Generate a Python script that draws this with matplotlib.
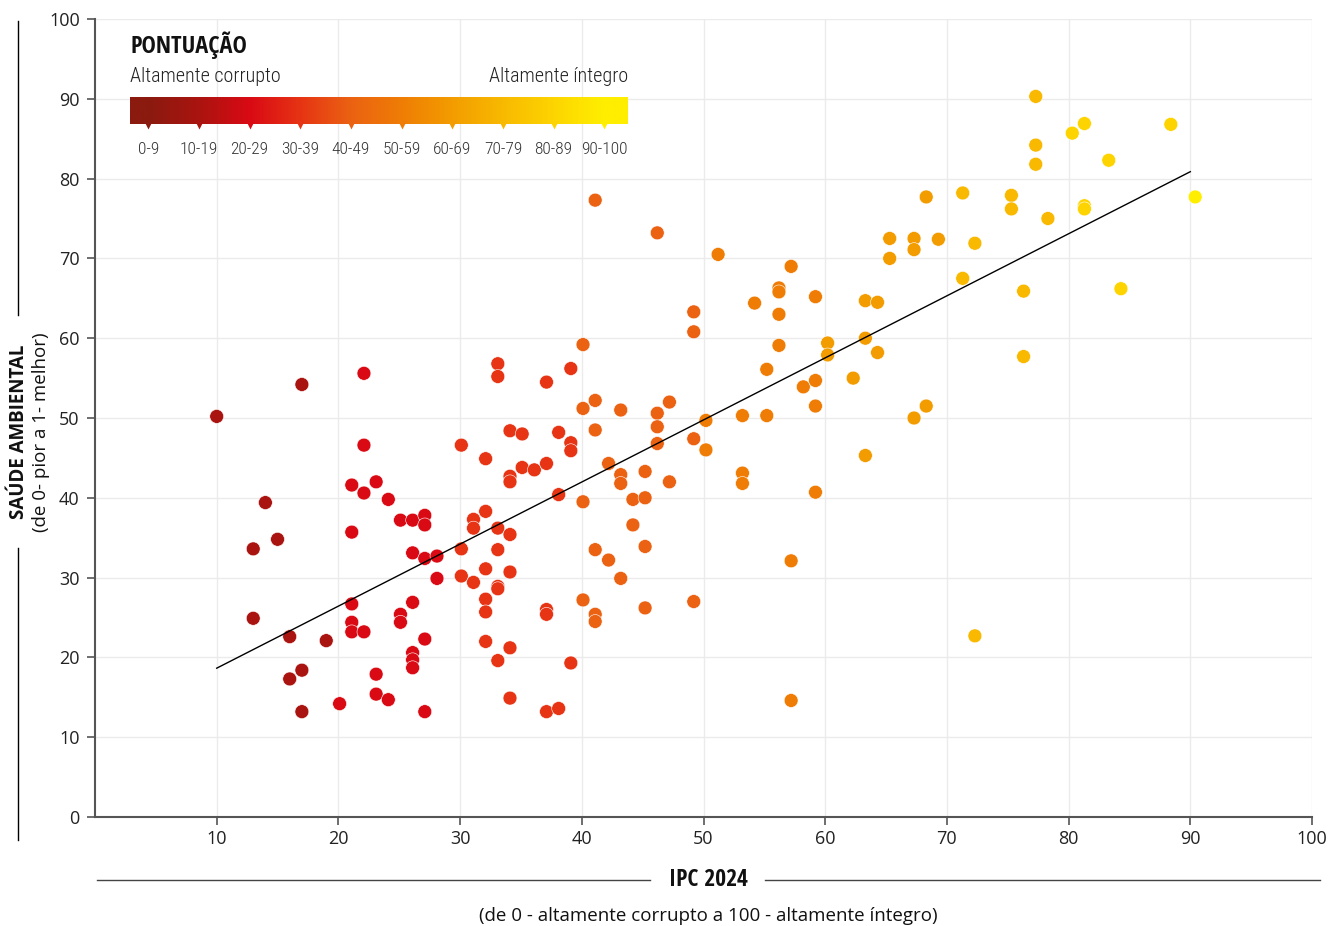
import numpy as np
import matplotlib
matplotlib.use("Agg")
import matplotlib.pyplot as plt
from matplotlib import font_manager
from matplotlib.colors import LinearSegmentedColormap
from matplotlib.lines import Line2D

# IPC 2024 score (x) vs environmental health (y), one dot per country
ipc = [10.0, 17.0, 22.1, 22.1, 14.0, 13.0, 15.0, 13.0, 16.0, 16.0, 17.0, 17.0, 19.0, 20.1,
       21.1, 22.1, 23.1, 24.1, 21.1, 21.1, 21.1, 21.1, 22.1, 23.1, 23.1, 24.1,
       25.1, 26.1, 25.1, 25.1, 26.1, 26.1, 27.1, 27.1, 27.1, 28.1, 28.1, 26.1, 26.1, 26.1, 27.1, 27.1,
       30.1, 32.1, 31.1, 31.1, 32.1, 30.1, 30.1, 31.1, 32.1, 32.1, 32.1, 32.1,
       40.1, 33.1, 33.1, 39.1, 37.1, 34.1, 35.1, 38.1, 39.1, 39.1, 40.1, 41.1, 41.1, 43.2,
       46.2, 46.2, 47.2, 46.2, 49.2, 50.2, 50.2, 42.2, 43.2, 43.2, 45.2, 47.2, 44.2, 45.2,
       40.1, 38.1, 34.1, 34.1, 35.1, 36.1, 37.1, 33.1, 34.1, 44.2, 45.2, 41.1, 42.2, 43.2,
       33.1, 34.1, 33.1, 33.1, 40.1, 37.1, 37.1, 41.1, 41.1, 45.2, 49.2, 34.1, 33.1, 39.1,
       34.1, 37.1, 38.1,
       46.2, 51.2, 49.2, 49.2, 57.2, 56.2, 56.2, 54.2, 56.2, 59.2, 63.3, 64.3, 56.2, 60.2,
       60.2, 63.3, 64.3, 55.2, 58.2, 59.2, 62.3, 59.2, 68.3, 67.3, 53.2, 55.2, 53.2, 53.2,
       59.2, 63.3,
       77.3, 81.3, 80.3, 88.4, 77.3, 77.3, 83.3, 68.3, 71.3, 75.3, 75.3, 78.3, 81.3, 81.3,
       90.4, 65.3, 67.3, 69.3, 67.3, 65.3, 72.3, 71.3, 76.3, 84.3, 76.3, 72.3, 57.2, 57.2, 41.1]
saude = [50.2, 54.2, 55.6, 46.6, 39.4, 33.6, 34.8, 24.9, 22.6, 17.3, 18.4, 13.2, 22.1, 14.2,
         41.6, 40.6, 42.0, 39.8, 35.7, 26.7, 24.4, 23.2, 23.2, 17.9, 15.4, 14.7,
         37.2, 37.2, 25.4, 24.4, 26.9, 33.1, 37.8, 36.6, 32.4, 32.7, 29.9, 20.6, 19.7, 18.7, 22.3, 13.2,
         46.6, 44.9, 37.3, 36.2, 38.3, 33.6, 30.2, 29.4, 31.1, 27.3, 25.7, 22.0,
         59.2, 56.8, 55.2, 56.2, 54.5, 48.4, 48.0, 48.2, 46.9, 45.9, 51.2, 52.2, 48.5, 51.0,
         50.6, 48.9, 52.0, 46.8, 47.4, 49.7, 46.0, 44.3, 42.9, 41.8, 43.3, 42.0, 39.8, 40.0,
         39.5, 40.4, 42.7, 42.0, 43.8, 43.5, 44.3, 36.2, 35.4, 36.6, 33.9, 33.5, 32.2, 29.9,
         33.5, 30.7, 28.9, 28.6, 27.2, 26.0, 25.4, 25.4, 24.5, 26.2, 27.0, 21.2, 19.6, 19.3,
         14.9, 13.2, 13.6,
         73.2, 70.5, 63.3, 60.8, 69.0, 66.3, 65.8, 64.4, 63.0, 65.2, 64.7, 64.5, 59.1, 59.4,
         57.9, 60.0, 58.2, 56.1, 53.9, 54.7, 55.0, 51.5, 51.5, 50.0, 50.3, 50.3, 43.1, 41.8,
         40.7, 45.3,
         90.3, 86.9, 85.7, 86.8, 84.2, 81.8, 82.3, 77.7, 78.2, 77.9, 76.2, 75.0, 76.6, 76.2,
         77.7, 72.5, 72.5, 72.4, 71.1, 70.0, 71.9, 67.5, 65.9, 66.2, 57.7, 22.7, 32.1, 14.6, 77.3]

faixas = ["0-9", "10-19", "20-29", "30-39", "40-49",
          "50-59", "60-69", "70-79", "80-89", "90-100"]
cores = ["#8B1A0F", "#AA1410", "#DA0A14", "#E63414", "#EB6212",
         "#EF7D05", "#F39C00", "#F8B900", "#FDD400", "#FFEE00"]

# fonts: condensed families for the legend (bold one and a thin one)
def peso(w):
    if isinstance(w, str):
        return {"ultralight": 200, "light": 300, "normal": 400, "regular": 400,
                "book": 400, "medium": 500, "semibold": 600, "bold": 700}.get(w.lower(), 400)
    return w

fontes = font_manager.fontManager.ttflist
candidatas = ["Open Sans Condensed", "Roboto Condensed", "Liberation Sans Narrow",
              "DejaVu Sans Condensed"]
negrito, leve, leve_peso = "Open Sans", "Open Sans", 400
for n in candidatas:
    if any(f.name == n and peso(f.weight) >= 600 for f in fontes):
        negrito = n
        break
for n in candidatas:
    finos = sorted(peso(f.weight) for f in fontes if f.name == n and peso(f.weight) <= 400)
    if finos:
        finos_ok = [p for p in finos if p >= 300] or finos
        leve, leve_peso = n, finos_ok[0]
        break
fam_negrito = [negrito, "DejaVu Sans"]
fam_leve = [leve, "DejaVu Sans"]
plt.rcParams["font.family"] = ["Open Sans", "DejaVu Sans"]

W, H = 1329, 926
fig = plt.figure(figsize=(W / 100, H / 100), dpi=100)

def fx(px):
    return px / W

def fy(py):
    return 1 - py / H

ax = fig.add_axes([fx(95), fy(817), fx(1312) - fx(95), fy(19) - fy(817)])

x = np.array(ipc)
y = np.array(saude)
idx = np.minimum(np.round(x) // 10, 9).astype(int)
ax.scatter(x, y, s=100, c=[cores[i] for i in idx], edgecolors="white",
           linewidths=0.4, zorder=3)

# linear trend
a, b = np.polyfit(x, y, 1)
xs = np.array([np.floor(x.min()), np.floor(x.max())])
ax.plot(xs, a * xs + b, color="black", lw=1, zorder=4)

ax.set_xlim(0, 100)
ax.set_ylim(0, 100)
ax.set_xticks(range(10, 101, 10))
ax.set_yticks(range(0, 101, 10))
ax.grid(True, color="#EBEBEB", lw=1)
ax.set_axisbelow(True)
for s in ["top", "right"]:
    ax.spines[s].set_visible(False)
for s in ["left", "bottom"]:
    ax.spines[s].set_color("#555555")
    ax.spines[s].set_linewidth(1.5)
ax.tick_params(axis="both", colors="#555555", labelcolor="#222222",
               labelsize=13, length=6, width=1.2)
ax.tick_params(axis="y", pad=5)

# y label with lines
fig.text(fx(19), fy(432), "SAÚDE AMBIENTAL", rotation=90, ha="center",
         va="center", fontsize=13.5, fontweight="bold", color="#111111")
fig.text(fx(41), fy(432), "(de 0- pior a 1- melhor)", rotation=90,
         ha="center", va="center", fontsize=13.5, color="#111111")
fig.add_artist(Line2D([fx(18), fx(18)], [fy(21), fy(315)], color="black", lw=1))
fig.add_artist(Line2D([fx(18), fx(18)], [fy(548), fy(840)], color="black", lw=1))

# x label with lines
fig.text(fx(708), fy(880), "IPC 2024", ha="center", va="center",
         fontsize=17, fontweight="bold", family=fam_negrito, color="#111111")
fig.add_artist(Line2D([fx(97), fx(650)], [fy(880), fy(880)], color="#444444", lw=1))
fig.add_artist(Line2D([fx(765), fx(1320)], [fy(880), fy(880)], color="#444444", lw=1))
fig.text(fx(708), fy(916), "(de 0 - altamente corrupto a 100 - altamente íntegro)",
         ha="center", va="center", fontsize=13.5, color="#111111")

# colour legend
fig.text(fx(130), fy(45), "PONTUAÇÃO", ha="left", va="center", fontsize=17.5,
         fontweight="bold", family=fam_negrito, color="#111111")
fig.text(fx(130), fy(76), "Altamente corrupto", ha="left", va="center",
         fontsize=14.5, fontweight=leve_peso, family=fam_leve, color="#222222")
fig.text(fx(628), fy(76), "Altamente íntegro", ha="right", va="center",
         fontsize=14.5, fontweight=leve_peso, family=fam_leve, color="#222222")

lax = fig.add_axes([fx(130), fy(124), fx(628) - fx(130), fy(97) - fy(124)])
cmap = LinearSegmentedColormap.from_list("ipc", cores)
x0, x1 = -0.36, 9.47
grad = np.linspace(x0, x1, 600)[None, :]
lax.imshow(grad, aspect="auto", cmap=cmap, vmin=0, vmax=9,
           extent=[x0, x1, 0, 1])
lax.set_xlim(x0, x1)
lax.set_ylim(0, 1)
lax.axis("off")
for i, (lab, c) in enumerate(zip(faixas, cores)):
    lax.plot(i, -0.02, marker="v", ms=6, color=c, clip_on=False, mec="none")
    lax.text(i, -0.95, lab, ha="center", va="center", fontsize=12.5,
             fontweight=leve_peso, family=fam_leve, color="#333333")

fig.savefig("out.png", dpi=100)
